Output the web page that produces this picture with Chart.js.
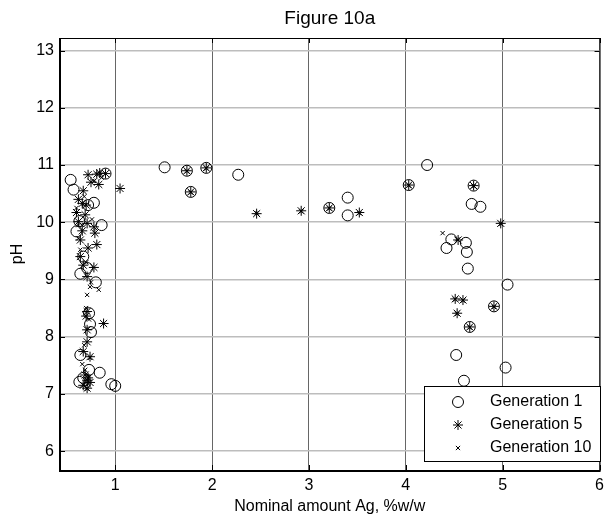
<!DOCTYPE html>
<html>
<head>
<meta charset="utf-8">
<script src="https://cdn.jsdelivr.net/npm/chart.js@4.4.1/dist/chart.umd.min.js"></script>
<style>
html,body{margin:0;padding:0;background:#fff;}
#wrap{width:610px;height:518px;}
</style>
</head>
<body>
<div id="wrap"><canvas id="c" width="610" height="518"></canvas></div>
<script>
const chartTitle = 'Figure 10a';
const xTitle = 'Nominal amount Ag, %w/w';
const yTitle = 'pH';
const xTicks = [1, 2, 3, 4, 5, 6];
const yTicks = [6, 7, 8, 9, 10, 11, 12, 13];
const seriesNames = ['Generation 1', 'Generation 5', 'Generation 10'];

const gen1X = [0.54,0.57,0.90,0.78,0.72,0.63,0.60,0.86,0.67,0.71,0.64,0.80,0.73,0.74,0.75,0.64,0.73,0.84,0.63,0.67,0.96,1.00,
  1.51,1.74,1.94,2.27,1.78,3.21,3.40,3.40,4.03,4.22,4.70,4.68,4.77,4.47,4.42,4.62,4.63,4.64,5.05,4.91,4.66,4.52,5.03,4.60];
const gen1Y = [10.74,10.57,10.85,10.34,10.30,10.02,9.84,9.95,9.40,9.20,9.10,8.95,8.41,8.22,8.08,7.68,7.42,7.37,7.21,7.28,7.17,7.14,
  10.96,10.90,10.95,10.83,10.53,10.25,10.43,10.12,10.65,11.00,10.64,10.32,10.27,9.70,9.55,9.64,9.48,9.19,8.91,8.53,8.17,7.68,7.46,7.23];

const gen5X = [1.74,1.94,1.78,2.46,2.92,3.21,3.52,4.03,4.70,4.98,4.54,4.51,4.59,4.53,4.91,4.66,
  0.72,0.81,0.84,0.90,1.05,0.75,0.83,0.67,0.62,0.66,0.70,0.60,0.69,0.62,0.71,0.78,0.66,0.79,0.64,0.81,0.72,0.64,0.67,0.78,0.71,0.71,0.70,0.88,0.71,0.71,0.67,0.74,0.69,0.71,0.74,0.71,0.67,0.72];
const gen5Y = [10.90,10.95,10.53,10.15,10.20,10.25,10.17,10.65,10.64,9.98,9.69,8.66,8.64,8.41,8.53,8.17,
  10.83,10.84,10.86,10.85,10.59,10.70,10.66,10.55,10.40,10.33,10.30,10.17,10.13,10.01,9.98,9.92,9.85,9.81,9.69,9.61,9.55,9.40,9.25,9.21,9.05,8.44,8.36,8.23,8.12,7.91,7.74,7.65,7.33,7.24,7.20,7.10,7.15,7.28];

const gen10X = [4.38,1.74,1.94,1.78,2.46,2.92,3.21,3.52,4.03,4.70,4.98,4.53,4.51,4.59,4.53,4.91,4.66,
  0.64,0.71,0.83,0.74,0.69,0.74,0.71,0.68,0.70,0.75,0.62,0.60,0.68,0.86,0.78,0.66,0.70,0.72,0.66,0.73,0.62,0.76];
const gen10Y = [9.81,10.89,10.94,10.52,10.16,10.19,10.24,10.16,10.64,10.63,9.97,9.70,8.65,8.63,8.40,8.52,8.16,
  9.52,8.73,8.82,8.87,7.42,7.63,7.09,7.85,8.50,8.95,9.72,10.25,10.45,10.78,10.72,9.95,9.30,7.18,7.52,8.30,9.95,10.05];

function pts(xs, ys){ return xs.map((x,i)=>({x:x, y:ys[i]})); }

const FONT = "'Liberation Sans', Arial, sans-serif";
Chart.defaults.font.family = FONT;
Chart.defaults.color = '#000';

const styles = [
  {pointStyle:'circle', radius:5.5},
  {pointStyle:'star', radius:5},
  {pointStyle:'crossRot', radius:3}
];

const framePlugin = {
  id: 'frame',
  afterDatasetsDraw(chart){
    const {ctx, chartArea:a, scales} = chart;
    ctx.save();
    ctx.strokeStyle = '#000';
    ctx.lineWidth = 1;
    const tl = 5;
    xTicks.forEach(v=>{
      const px = Math.round(scales.x.getPixelForValue(v)) + 0.5;
      ctx.beginPath();
      ctx.moveTo(px, a.bottom); ctx.lineTo(px, a.bottom - tl);
      ctx.moveTo(px, a.top); ctx.lineTo(px, a.top + tl);
      ctx.stroke();
    });
    yTicks.forEach(v=>{
      const py = Math.round(scales.y.getPixelForValue(v)) + 0.5;
      ctx.beginPath();
      ctx.moveTo(a.left, py); ctx.lineTo(a.left + tl, py);
      ctx.moveTo(a.right, py); ctx.lineTo(a.right - tl, py);
      ctx.stroke();
    });
    ctx.lineWidth = 1;
    ctx.strokeRect(a.left + 0.5, a.top + 0.5, a.right - a.left, a.bottom - a.top);
    ctx.lineWidth = 2;
    ctx.beginPath();
    ctx.moveTo(a.left, a.top); ctx.lineTo(a.left, a.bottom + 1); ctx.lineTo(a.right + 1, a.bottom + 1);
    ctx.stroke();

    // title centred over the plot area
    ctx.fillStyle = '#000';
    ctx.font = '19px ' + FONT;
    ctx.textAlign = 'center';
    ctx.textBaseline = 'middle';
    ctx.fillText(chartTitle, (a.left + a.right) / 2, 19);

    // legend
    const lx = 424, ly = 386, lw = 176, lh = 75;
    ctx.fillStyle = '#fff';
    ctx.fillRect(lx, ly, lw, lh);
    ctx.lineWidth = 1;
    ctx.strokeStyle = '#000';
    ctx.strokeRect(lx + 0.5, ly + 0.5, lw, lh);
    ctx.font = '16px ' + FONT;
    ctx.textBaseline = 'middle';
    ctx.textAlign = 'left';
    const rows = [402, 425, 448];
    seriesNames.forEach((name, i)=>{
      ctx.fillStyle = 'rgba(0,0,0,0)';
      ctx.strokeStyle = '#000';
      ctx.lineWidth = 1;
      Chart.helpers.drawPoint(ctx, {pointStyle: styles[i].pointStyle, radius: styles[i].radius, rotation: 0, borderWidth: 1}, 458, rows[i]);
      ctx.fillStyle = '#000';
      ctx.fillText(name, 490, rows[i]);
    });
    ctx.restore();
  }
};

const datasets = [
  {label: seriesNames[0], data: pts(gen1X, gen1Y)},
  {label: seriesNames[1], data: pts(gen5X, gen5Y)},
  {label: seriesNames[2], data: pts(gen10X, gen10Y)}
].map((d,i)=>Object.assign(d, {
  pointStyle: styles[i].pointStyle,
  pointRadius: styles[i].radius,
  pointHoverRadius: styles[i].radius,
  borderColor: '#000',
  backgroundColor: 'rgba(0,0,0,0)',
  pointBorderWidth: 1,
  showLine: false
}));

new Chart(document.getElementById('c'), {
  type: 'scatter',
  data: {datasets},
  options: {
    responsive: false,
    animation: false,
    events: [],
    layout: {padding: {top: 38, right: 9, left: 0, bottom: 0}},
    plugins: {
      legend: {display: false},
      tooltip: {enabled: false},
      title: {display: false}
    },
    scales: {
      x: {
        type: 'linear', min: 0.43, max: 6,
        afterBuildTicks: s => { s.ticks = xTicks.map(v=>({value:v})); },
        afterFit: s => { s.height = 48; },
        ticks: {font: {size: 16}, padding: 6, color: '#000', maxRotation: 0},
        grid: {color: '#666', lineWidth: 1, drawTicks: false},
        border: {display: false},
        title: {display: true, text: xTitle, font: {size: 16}, color: '#000', padding: {top: 2, bottom: 1.5}}
      },
      y: {
        type: 'linear', min: 5.67, max: 13.22,
        afterBuildTicks: s => { s.ticks = yTicks.map(v=>({value:v})); },
        afterFit: s => { s.width = 60; },
        ticks: {font: {size: 16}, padding: 6, color: '#000'},
        grid: {color: '#bdbdbd', lineWidth: 1.5, drawTicks: false},
        border: {display: false},
        title: {display: true, text: yTitle, font: {size: 16}, color: '#000', padding: {top: 8.4, bottom: 4}}
      }
    }
  },
  plugins: [framePlugin]
});
</script>
</body>
</html>
